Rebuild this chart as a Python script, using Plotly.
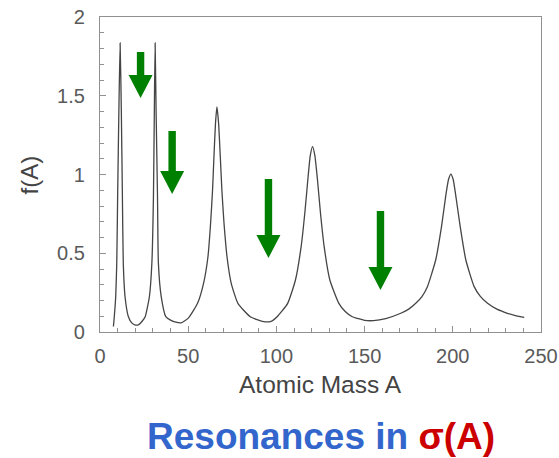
import plotly.graph_objects as go

# Curve
mass_A = [7.6, 8.1, 8.9, 9.5, 10.0, 10.7, 11.4, 12.1, 12.7, 13.2, 14.2, 16.1, 18, 20, 22, 24,
          25.6, 28.0, 29.4, 30.3, 30.8, 31.25, 31.8, 32.6, 33.1, 34.7, 37.3, 40, 43, 46,
          50.2, 55.3, 58.7, 61.2, 62.7, 63.8, 64.6, 65.5, 66.3, 67.2, 68.2, 69.1, 70.3, 72,
          74.4, 78.2, 85.2, 92, 96.6, 100.4, 106.4, 110.8, 114, 116.1, 117.8, 119.2, 120.5,
          121.8, 123.3, 125, 127.1, 130.3, 135.4, 139, 143, 150, 155, 162, 170.5, 175, 179,
          182.5, 185.6, 190.3, 193.6, 196.2, 197.6, 198.9, 200.2, 201.5, 204.2, 207.4, 212.1,
          215.5, 219.7, 225, 231, 236, 240.5]
f_A = [0.035, 0.097, 0.224, 0.436, 0.86, 1.4, 1.835, 1.4, 0.86, 0.436, 0.224, 0.097, 0.058, 0.044, 0.047, 0.07,
       0.097, 0.224, 0.436, 0.86, 1.4, 1.835, 1.4, 0.86, 0.436, 0.224, 0.097, 0.075, 0.062, 0.058,
       0.09, 0.182, 0.309, 0.478, 0.69, 0.90, 1.113, 1.33, 1.43, 1.33, 1.113, 0.90, 0.69, 0.478,
       0.309, 0.182, 0.097, 0.068, 0.066, 0.097, 0.182, 0.33, 0.54, 0.754, 0.965, 1.12, 1.177,
       1.12, 0.965, 0.754, 0.54, 0.33, 0.182, 0.13, 0.097, 0.074, 0.072, 0.085, 0.119, 0.145, 0.182,
       0.225, 0.288, 0.457, 0.669, 0.88, 0.97, 1.003, 0.97, 0.88, 0.669, 0.457, 0.288,
       0.228, 0.182, 0.145, 0.119, 0.103, 0.093]

# Green arrows: x position, shaft top, head base, tip (data units)
arrow_x = [23, 40.9, 95.5, 159]
arrow_top = [1.778, 1.276, 0.971, 0.768]
arrow_head = [1.632, 1.022, 0.616, 0.413]
arrow_tip = [1.486, 0.876, 0.470, 0.267]
shaft_half = 2.1
head_half = 6.8

fig = go.Figure()
fig.add_trace(go.Scatter(x=mass_A, y=f_A, mode="lines",
                         line=dict(color="#454545", width=1.3, shape="spline", smoothing=0.5),
                         hoverinfo="skip", showlegend=False))

shapes = []
for x, t, h, p in zip(arrow_x, arrow_top, arrow_head, arrow_tip):
    path = (f"M {x-shaft_half},{t} L {x+shaft_half},{t} L {x+shaft_half},{h} "
            f"L {x+head_half},{h} L {x},{p} L {x-head_half},{h} L {x-shaft_half},{h} Z")
    shapes.append(dict(type="path", path=path, xref="x", yref="y",
                       fillcolor="#008000", line=dict(width=0), layer="above"))

FONT = "Liberation Sans, Arial, sans-serif"
tick_font = dict(family=FONT, size=20, color="#5a5a5a")
axis_common = dict(showline=True, linecolor="#909090", linewidth=1.2, mirror=True,
                   showgrid=False, zeroline=False, ticks="inside", tickcolor="#909090",
                   ticklen=6, tickwidth=1, tickfont=tick_font, automargin=False,
                   ticklabeloverflow="allow")

fig.update_layout(
    width=559, height=458,
    margin=dict(l=100, r=18, t=17, b=126, autoexpand=False),
    paper_bgcolor="white", plot_bgcolor="white",
    xaxis=dict(range=[0, 250], dtick=50, tick0=0, ticklabelstandoff=6,
               minor=dict(dtick=10, ticks="inside", ticklen=4, tickcolor="#909090"),
               **axis_common),
    yaxis=dict(range=[0, 2], tickvals=[0, 0.5, 1, 1.5, 2], ticktext=["0", "0.5", "1", "1.5", "2"],
               ticklabelstandoff=10,
               minor=dict(dtick=0.1, ticks="inside", ticklen=4, tickcolor="#909090"),
               **axis_common),
    shapes=shapes,
    annotations=[
        dict(text="Atomic Mass A", xref="paper", yref="paper", x=0.5, y=-0.168,
             showarrow=False, yanchor="middle",
             font=dict(family=FONT, size=24.5, color="#444444")),
        dict(text="f(A)", xref="paper", yref="paper", x=-0.159, y=0.5, textangle=-90,
             showarrow=False, xanchor="center",
             font=dict(family=FONT, size=24, color="#444444")),
        dict(text="<b><span style='color:#3366cc'>Resonances in </span>"
                  "<span style='color:#cc0000'>σ(A)</span></b>",
             xref="paper", yref="paper", x=0.5, y=-0.333, showarrow=False, yanchor="middle",
             font=dict(family=FONT, size=37, color="#3366cc")),
    ],
)

# remove the default page margin so the figure fills the 559x458 window exactly
fig.write_html("out.html", config={"displayModeBar": False},
               post_script="document.body.style.margin='0';")
